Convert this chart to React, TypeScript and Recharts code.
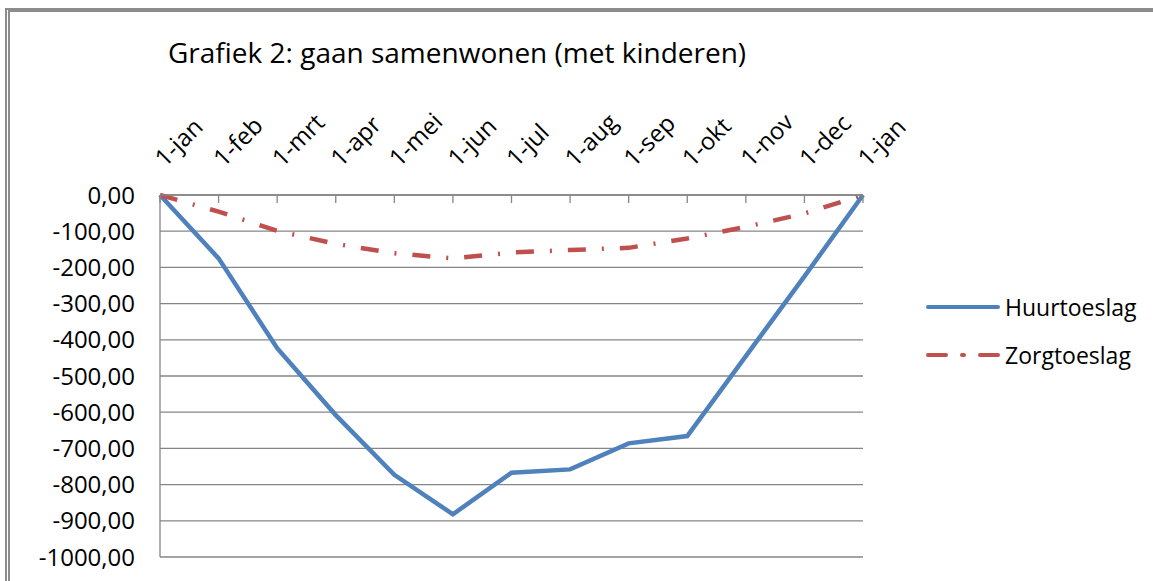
import { CartesianGrid, Legend, Line, LineChart, XAxis, YAxis } from "recharts"

// Maanden (1-jan t/m 1-jan volgend jaar)
const months = ["1-jan", "1-feb", "1-mrt", "1-apr", "1-mei", "1-jun", "1-jul", "1-aug", "1-sep", "1-okt", "1-nov", "1-dec", "1-jan"]
const huurtoeslag = [0, -175, -423, -608, -773, -882, -767, -758, -686, -666, -445, -225, 0]
const zorgtoeslag = [0, -46, -99, -135, -161, -175, -159, -152, -146, -120, -88, -51, 0]
const yTicks = [0, -100, -200, -300, -400, -500, -600, -700, -800, -900, -1000]

const FONT = "'Open Sans', 'DejaVu Sans', sans-serif"
const AXIS_GRAY = "#868686"

const series = [
  { key: "huur", name: "Huurtoeslag", color: "#4F81BD", dash: undefined as string | undefined },
  { key: "zorg", name: "Zorgtoeslag", color: "#C0504D", dash: "18 16 2 16" },
]

const chartData = months.map((m, i) => ({
  month: m,
  huur: huurtoeslag[i],
  zorg: zorgtoeslag[i],
}))

const formatValue = (v: number) => v.toFixed(2).replace(".", ",")

// rotated month label + tick mark pointing down into the plot
function MonthTick(props: any) {
  const { x, y, payload } = props
  const lx = x + 5
  const ly = y - 27
  return (
    <g>
      <line x1={x} y1={y} x2={x} y2={y + 8} stroke={AXIS_GRAY} strokeWidth={1.3} />
      <text
        x={lx}
        y={ly}
        transform={`rotate(-45, ${lx}, ${ly})`}
        textAnchor="start"
        fontSize={24}
        fill="#000"
        fontFamily={FONT}
      >
        {payload.value}
      </text>
    </g>
  )
}

function LegendContent() {
  return (
    <div style={{ fontFamily: FONT }}>
      {series.map((s) => (
        <div key={s.key} style={{ display: "flex", alignItems: "center", height: 48 }}>
          <svg width={74} height={12}>
            <line x1={2} y1={6} x2={72} y2={6} stroke={s.color} strokeWidth={4} strokeDasharray={s.dash} strokeLinecap="round" />
          </svg>
          <span style={{ marginLeft: 5, fontSize: 23, color: "#000", lineHeight: "48px" }}>{s.name}</span>
        </div>
      ))}
    </div>
  )
}

export default function App() {
  return (
    <div style={{ position: "fixed", left: 0, top: 0, width: 1153, height: 581, background: "#fff", overflow: "hidden" }}>
      <div
        style={{
          position: "absolute",
          left: 5,
          top: 8,
          width: 1200,
          height: 640,
          borderTop: "4px solid #8c8c8c",
          borderLeft: "5px double #8c8c8c",
          boxSizing: "border-box",
        }}
      />
      <div
        style={{
          position: "absolute",
          left: 168,
          top: 38,
          fontFamily: FONT,
          fontSize: 28,
          lineHeight: "28px",
          color: "#000",
          whiteSpace: "nowrap",
        }}
      >
        Grafiek 2: gaan samenwonen (met kinderen)
      </div>
      <div style={{ position: "absolute", left: 0, top: 0 }}>
        <LineChart
          width={1153}
          height={581}
          data={chartData}
          margin={{ top: 0, right: 290, bottom: 24, left: 0 }}
          style={{ fontFamily: FONT }}
        >
          <CartesianGrid vertical={false} stroke={AXIS_GRAY} strokeWidth={1.3} />
          <XAxis
            dataKey="month"
            orientation="top"
            height={195}
            interval={0}
            tick={<MonthTick />}
            tickLine={false}
            tickSize={0}
            tickMargin={0}
            axisLine={{ stroke: AXIS_GRAY, strokeWidth: 1.3 }}
          />
          <YAxis
            width={160}
            domain={[-1000, 0]}
            ticks={yTicks}
            interval={0}
            tickFormatter={formatValue}
            tickLine={false}
            tickSize={6}
            tickMargin={19}
            tick={{ fontSize: 24, fill: "#000", fontFamily: FONT }}
            axisLine={{ stroke: AXIS_GRAY, strokeWidth: 1.3 }}
          />
          <Legend
            layout="vertical"
            align="center"
            verticalAlign="middle"
            content={<LegendContent />}
            wrapperStyle={{ position: "absolute", left: 926, top: 283, width: 220 }}
          />
          {series.map((s) => (
            <Line
              key={s.key}
              type="linear"
              dataKey={s.key}
              name={s.name}
              stroke={s.color}
              strokeWidth={4.5}
              strokeDasharray={s.dash}
              dot={false}
              activeDot={false}
              isAnimationActive={false}
            />
          ))}
        </LineChart>
      </div>
    </div>
  )
}
